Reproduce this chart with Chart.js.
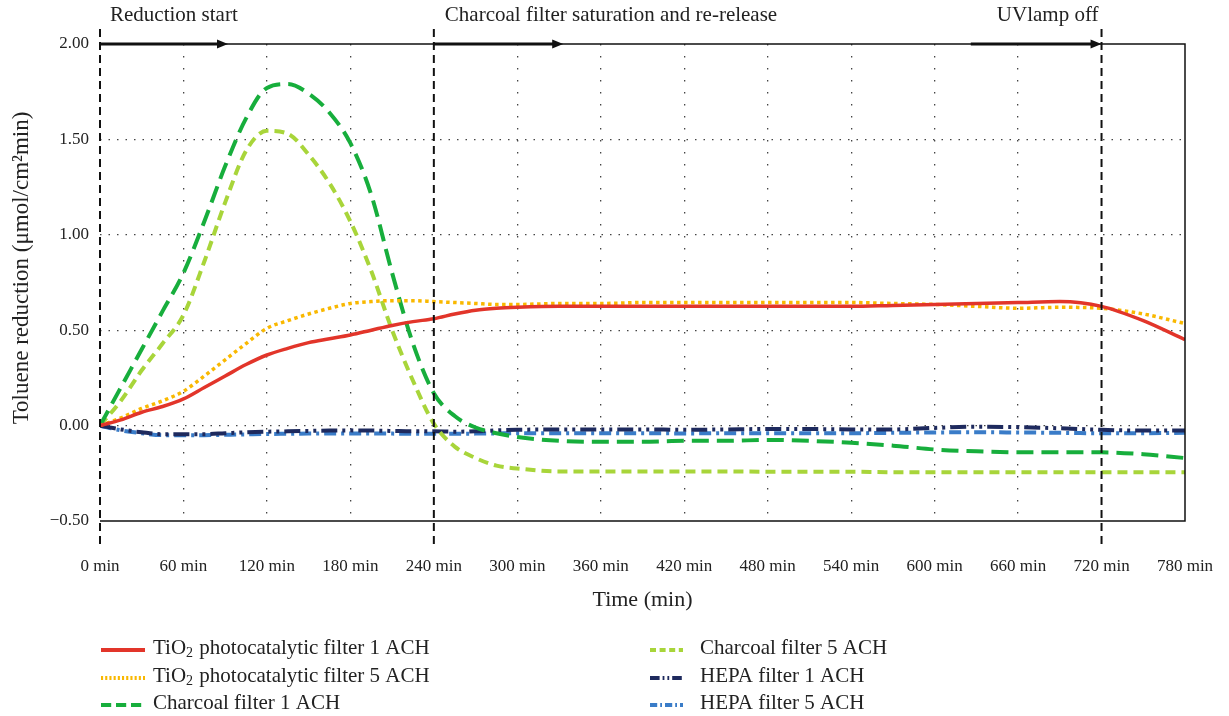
<!DOCTYPE html>
<html>
<head>
<meta charset="utf-8">
<script src="https://cdn.jsdelivr.net/npm/chart.js@4.4.0/dist/chart.umd.min.js"></script>
<style>
  html, body { margin: 0; padding: 0; background: #fff; }
  #wrap { width: 1229px; height: 716px; }
</style>
</head>
<body>
<div id="wrap"><canvas id="chart" width="1229" height="716"></canvas></div>
<script>
// time axis (min)
const times = [0,15,30,45,60,75,90,105,120,135,150,165,180,195,210,225,240,255,270,285,300,
  330,360,390,420,450,480,510,540,570,600,630,660,690,720,750,780];

// series values (umol/cm2 min)
const tio2_1ach = [0,0.03,0.07,0.10,0.14,0.20,0.26,0.32,0.37,0.405,0.435,0.455,0.475,0.50,0.525,0.545,0.56,0.585,0.605,0.615,0.62,
  0.625,0.625,0.625,0.625,0.625,0.625,0.625,0.625,0.63,0.635,0.64,0.645,0.65,0.625,0.55,0.45];
const tio2_5ach = [0,0.04,0.09,0.13,0.18,0.26,0.345,0.43,0.51,0.55,0.585,0.615,0.64,0.65,0.655,0.655,0.65,0.645,0.64,0.635,0.635,
  0.64,0.64,0.645,0.645,0.645,0.645,0.645,0.645,0.64,0.635,0.625,0.615,0.62,0.615,0.585,0.535];
const charcoal_1ach = [0,0.2,0.4,0.6,0.8,1.07,1.36,1.61,1.77,1.79,1.74,1.64,1.48,1.21,0.80,0.43,0.17,0.05,-0.01,-0.04,-0.06,
  -0.08,-0.085,-0.085,-0.08,-0.08,-0.075,-0.08,-0.09,-0.105,-0.125,-0.135,-0.14,-0.14,-0.14,-0.15,-0.17];
const charcoal_5ach = [0,0.13,0.29,0.43,0.58,0.86,1.17,1.44,1.545,1.53,1.42,1.27,1.07,0.81,0.50,0.235,0.01,-0.11,-0.17,-0.21,-0.225,
  -0.24,-0.24,-0.24,-0.24,-0.24,-0.242,-0.242,-0.242,-0.244,-0.244,-0.244,-0.244,-0.244,-0.244,-0.244,-0.244];
const hepa_1ach = [0,-0.02,-0.035,-0.045,-0.045,-0.045,-0.04,-0.035,-0.032,-0.03,-0.028,-0.026,-0.025,-0.026,-0.028,-0.03,-0.03,-0.032,-0.03,-0.025,-0.022,
  -0.02,-0.02,-0.02,-0.022,-0.02,-0.018,-0.018,-0.02,-0.02,-0.012,-0.006,-0.008,-0.014,-0.022,-0.026,-0.026];
const hepa_5ach = [0,-0.025,-0.04,-0.05,-0.05,-0.05,-0.048,-0.046,-0.044,-0.043,-0.042,-0.042,-0.041,-0.041,-0.042,-0.043,-0.043,-0.043,-0.042,-0.041,-0.04,
  -0.04,-0.04,-0.04,-0.041,-0.04,-0.04,-0.04,-0.04,-0.038,-0.036,-0.035,-0.036,-0.038,-0.04,-0.04,-0.038];

// event markers and arrows along the top
const markerTimes = [0, 240, 720];
const eventLabels = ['Reduction start', 'Charcoal filter saturation and re-release', 'UVlamp off'];
const arrowFrom = [0, 240, 626];
const arrowTo = [92, 333, 720];

const xTicks = [0,60,120,180,240,300,360,420,480,540,600,660,720,780];
const yTicks = [-0.5, 0, 0.5, 1.0, 1.5, 2.0];

const FONT = '"Liberation Serif", "DejaVu Serif", serif';

const pts = arr => arr.map((v, i) => ({x: times[i], y: v}));

const seriesDefs = [
  {label: 'TiO2 photocatalytic filter 1 ACH', data: tio2_1ach, color: '#e2352a', dash: [], width: 3.5},
  {label: 'TiO2 photocatalytic filter 5 ACH', data: tio2_5ach, color: '#f9b800', dash: [3.5, 3.5], width: 3.5},
  {label: 'Charcoal filter 1 ACH', data: charcoal_1ach, color: '#17ae3c', dash: [17, 8], width: 4},
  {label: 'Charcoal filter 5 ACH', data: charcoal_5ach, color: '#a8d53a', dash: [10, 6], width: 4},
  {label: 'HEPA filter 1 ACH', data: hepa_1ach, color: '#1e2a5e', dash: [16, 5, 3, 5, 3, 5], width: 4},
  {label: 'HEPA filter 5 ACH', data: hepa_5ach, color: '#3a7cc8', dash: [12, 5, 3, 5], width: 4}
];

const overlay = {
  id: 'overlay',
  afterDatasetsDraw(chart) {
    const {ctx, scales: {x, y}} = chart;
    const top = y.getPixelForValue(2), bot = y.getPixelForValue(-0.5);
    const left = x.getPixelForValue(0), right = x.getPixelForValue(780);
    ctx.save();
    // frame
    ctx.strokeStyle = '#111';
    ctx.lineWidth = 1.5;
    ctx.beginPath();
    ctx.moveTo(left, top); ctx.lineTo(right, top); ctx.lineTo(right, bot); ctx.lineTo(left, bot);
    ctx.stroke();
    // dashed event markers
    ctx.lineWidth = 2;
    ctx.setLineDash([8, 5]);
    markerTimes.forEach(t => {
      const px = x.getPixelForValue(t);
      ctx.beginPath();
      ctx.moveTo(px, 29); ctx.lineTo(px, 546);
      ctx.stroke();
    });
    ctx.setLineDash([]);
    // arrows
    ctx.fillStyle = '#111';
    ctx.lineWidth = 3;
    arrowFrom.forEach((t, i) => {
      const a = x.getPixelForValue(t), b = x.getPixelForValue(arrowTo[i]);
      ctx.beginPath();
      ctx.moveTo(a, top); ctx.lineTo(b - 8, top);
      ctx.stroke();
      ctx.beginPath();
      ctx.moveTo(b, top); ctx.lineTo(b - 11, top - 4.5); ctx.lineTo(b - 11, top + 4.5);
      ctx.closePath(); ctx.fill();
    });
    // event labels
    ctx.font = '21px ' + FONT;
    ctx.fillStyle = '#222';
    ctx.textBaseline = 'middle';
    ctx.textAlign = 'left';
    ctx.fillText(eventLabels[0], x.getPixelForValue(0) + 10, 15);
    ctx.fillText(eventLabels[1], x.getPixelForValue(240) + 11, 15);
    ctx.textAlign = 'right';
    ctx.fillText(eventLabels[2], x.getPixelForValue(720) - 3, 15);
    ctx.restore();
  },
  afterDraw(chart) {
    const {ctx, scales: {x}} = chart;
    ctx.save();
    ctx.fillStyle = '#222';
    // axis titles
    ctx.font = '22px ' + FONT;
    ctx.textAlign = 'center';
    ctx.textBaseline = 'middle';
    ctx.fillText('Time (min)', (x.left + x.right) / 2, 600);
    ctx.translate(22, 268);
    ctx.rotate(-Math.PI / 2);
    ctx.font = '23px ' + FONT;
    ctx.fillText('Toluene reduction (\u03bcmol/cm\u00b2min)', 0, 0);
    ctx.restore();

    // legend: two columns of three
    ctx.save();
    ctx.textBaseline = 'middle';
    ctx.textAlign = 'left';
    const rows = [648, 676, 703];
    chart.data.datasets.forEach((ds, i) => {
      const col = i < 3 ? 0 : 1;
      const yy = rows[i % 3];
      const x0 = col === 0 ? 101 : 650, x1 = col === 0 ? 145 : 683;
      const tx = col === 0 ? 153 : 700;
      ctx.strokeStyle = ds.borderColor;
      ctx.lineWidth = 4;
      ctx.setLineDash(ds.borderDash.length ? ds.borderDash.map(v => v * 0.6) : []);
      ctx.beginPath(); ctx.moveTo(x0, yy + 2); ctx.lineTo(x1, yy + 2); ctx.stroke();
      ctx.setLineDash([]);
      ctx.fillStyle = '#222';
      ctx.font = '21px ' + FONT;
      if (ds.label.startsWith('TiO2')) {
        ctx.fillText('TiO', tx, yy);
        let w = ctx.measureText('TiO').width;
        ctx.font = '14px ' + FONT;
        ctx.fillText('2', tx + w, yy + 5);
        w += ctx.measureText('2').width + 1;
        ctx.font = '21px ' + FONT;
        ctx.fillText(ds.label.slice(4), tx + w, yy);
      } else {
        ctx.fillText(ds.label, tx, yy);
      }
    });
    ctx.restore();
  }
};

const hiddenX = [0, 240, 720, 780];

new Chart(document.getElementById('chart'), {
  type: 'line',
  data: {
    datasets: seriesDefs.map(s => ({
      label: s.label,
      data: pts(s.data),
      borderColor: s.color,
      backgroundColor: s.color,
      borderDash: s.dash,
      borderWidth: s.width,
      pointRadius: 0,
      fill: false,
      cubicInterpolationMode: 'monotone'
    }))
  },
  options: {
    responsive: false,
    animation: false,
    events: [],
    layout: {padding: {top: 44, right: 44, left: 0, bottom: 0}},
    plugins: {legend: {display: false}, tooltip: {enabled: false}},
    scales: {
      x: {
        type: 'linear', min: 0, max: 780,
        afterBuildTicks: s => { s.ticks = xTicks.map(v => ({value: v})); },
        afterFit: s => { s.height = 195; s.paddingLeft = 0; s.paddingRight = 0; },
        border: {display: false, dash: [1.5, 10.5]},
        grid: {
          drawTicks: false,
          color: c => hiddenX.includes(c.tick.value) ? 'rgba(0,0,0,0)' : '#444',
          lineWidth: 1.3
        },
        ticks: {
          padding: 35, maxRotation: 0, autoSkip: false,
          color: '#222', font: {family: FONT, size: 17},
          callback: v => v + ' min'
        }
      },
      y: {
        min: -0.5, max: 2.0,
        afterBuildTicks: s => { s.ticks = yTicks.map(v => ({value: v})); },
        afterFit: s => { s.width = 100; s.paddingTop = 0; s.paddingBottom = 0; },
        border: {display: false, dash: [1.5, 7]},
        grid: {
          drawTicks: false,
          color: c => (c.tick.value === 2 || c.tick.value === -0.5) ? 'rgba(0,0,0,0)' : '#444',
          lineWidth: 1.3
        },
        ticks: {
          padding: 11,
          color: '#222', font: {family: FONT, size: 17},
          callback: v => (v < 0 ? '\u2212' : '') + Math.abs(v).toFixed(2)
        }
      }
    }
  },
  plugins: [overlay]
});
</script>
</body>
</html>
